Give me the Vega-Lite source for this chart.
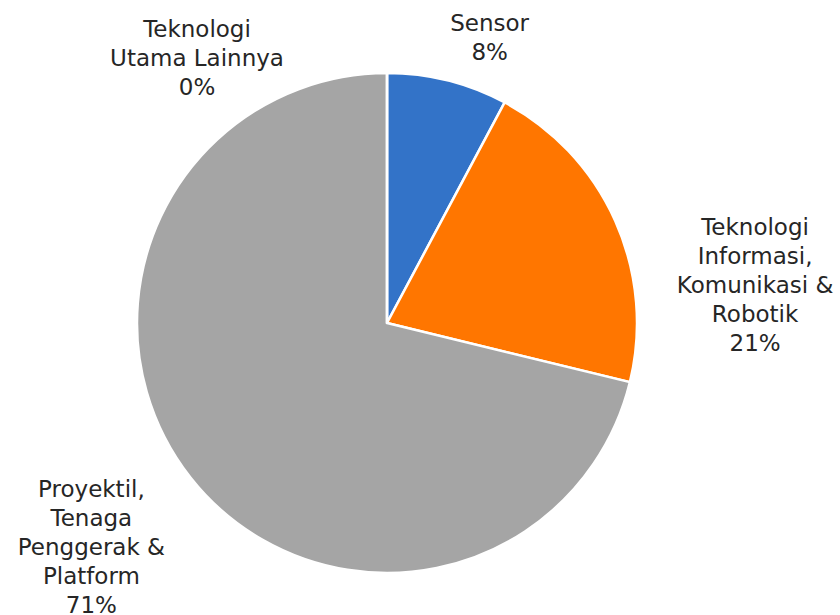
{
  "$schema": "https://vega.github.io/schema/vega-lite/v6.json",
  "width": 700,
  "height": 560,
  "autosize": {"type": "none"},
  "padding": {"left": 37, "top": 43, "right": 103, "bottom": 12},
  "background": "white",
  "config": {"view": {"stroke": null}, "text": {"font": "DejaVu Sans", "fontSize": 23, "color": "#262626"}},
  "data": {
    "values": [
      {"idx": 1, "name": "Sensor", "value": 7.8},
      {"idx": 2, "name": "Teknologi\nInformasi,\nKomunikasi &\nRobotik", "value": 21.0},
      {"idx": 3, "name": "Proyektil,\nTenaga\nPenggerak &\nPlatform", "value": 71.2},
      {"idx": 4, "name": "Teknologi\nUtama Lainnya", "value": 0}
    ]
  },
  "transform": [
    {"stack": "value", "groupby": [], "sort": [{"field": "idx", "order": "ascending"}], "as": ["v0", "v1"]},
    {"calculate": "(datum.v0 + datum.v1) / 2", "as": "mid"},
    {"calculate": "datum.name + '\\n' + format(datum.value, '.0f') + '%'", "as": "label"}
  ],
  "layer": [
    {
      "mark": {"type": "arc", "outerRadius": 250, "stroke": "white", "strokeWidth": 2.5},
      "encoding": {
        "theta": {"field": "v0", "type": "quantitative", "scale": {"domain": [0, 100]}},
        "theta2": {"field": "v1"},
        "color": {
          "field": "name",
          "type": "nominal",
          "scale": {"domain": ["Sensor", "Teknologi\nInformasi,\nKomunikasi &\nRobotik", "Proyektil,\nTenaga\nPenggerak &\nPlatform", "Teknologi\nUtama Lainnya"], "range": ["#3373c8", "#ff7600", "#a5a5a5", "#4472c4"]},
          "legend": null
        }
      }
    },
    {
      "transform": [{"filter": "datum.idx == 1"}],
      "mark": {"type": "text", "radius": 320, "lineBreak": "\n", "lineHeight": 29, "align": "center", "baseline": "middle", "dx": 25, "dy": 11},
      "encoding": {"theta": {"field": "mid", "type": "quantitative", "scale": {"domain": [0, 100]}}, "text": {"field": "label"}}
    },
    {
      "transform": [{"filter": "datum.idx == 2"}],
      "mark": {"type": "text", "radius": 320, "lineBreak": "\n", "lineHeight": 29, "align": "center", "baseline": "middle", "dx": 76, "dy": 36},
      "encoding": {"theta": {"field": "mid", "type": "quantitative", "scale": {"domain": [0, 100]}}, "text": {"field": "label"}}
    },
    {
      "transform": [{"filter": "datum.idx == 3"}],
      "mark": {"type": "text", "radius": 320, "lineBreak": "\n", "lineHeight": 29, "align": "center", "baseline": "middle", "dx": -44, "dy": -31},
      "encoding": {"theta": {"field": "mid", "type": "quantitative", "scale": {"domain": [0, 100]}}, "text": {"field": "label"}}
    },
    {
      "transform": [{"filter": "datum.idx == 4"}],
      "mark": {"type": "text", "radius": 320, "lineBreak": "\n", "lineHeight": 29, "align": "center", "baseline": "middle", "dx": -190, "dy": 27},
      "encoding": {"theta": {"field": "mid", "type": "quantitative", "scale": {"domain": [0, 100]}}, "text": {"field": "label"}}
    }
  ]
}
